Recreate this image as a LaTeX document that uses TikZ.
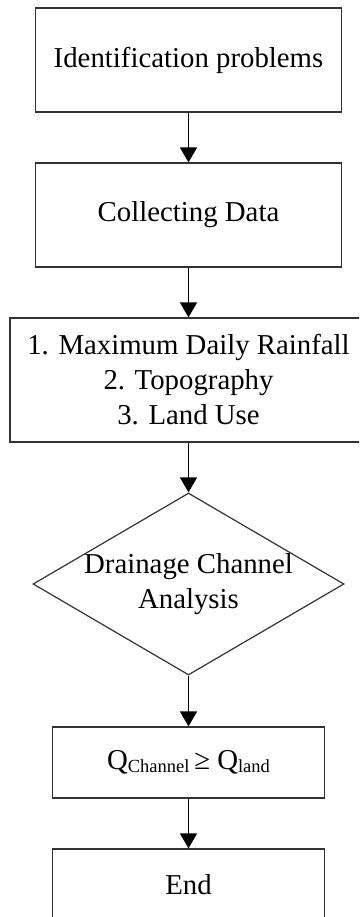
\documentclass[tikz,border=0pt]{standalone}
\usepackage{fontspec}
\setmainfont{Liberation Serif}
\usetikzlibrary{arrows.meta,shapes.geometric}
\tikzset{
  boxnode/.style={draw=black!80, line width=1.2bp, fill=white, inner sep=0pt,
    align=center, font=\fontsize{28.8bp}{35bp}\selectfont},
  decnode/.style={shape=diamond, draw=black!80, line width=1.2bp, fill=white, inner sep=0pt,
    minimum width=311bp, minimum height=182bp},
  textnode/.style={inner sep=0pt, align=center, font=\fontsize{28.8bp}{35bp}\selectfont},
  flowarrow/.style={draw=black, line width=1.5bp, -{Triangle[width=17bp,length=15bp]}}
}
\newcommand{\lowsub}[1]{\raisebox{-3bp}{\fontsize{18.5bp}{20bp}\selectfont #1}}
\begin{document}
\begin{tikzpicture}[x=1bp,y=-1bp]
\useasboundingbox (0,0) rectangle (359,917);
\clip (0,0) rectangle (359,917);
\node[boxnode, minimum width=306bp, minimum height=104bp] (b1) at (188.5,60) {Identification problems};
\node[boxnode, minimum width=306bp, minimum height=104bp] (b2) at (188.5,215) {Collecting Data};
\node[boxnode, minimum width=357bp, minimum height=124bp] (b3) at (188.5,380) {1. Maximum Daily Rainfall\\2. Topography\\3. Land Use};
\node[decnode] (d1) at (188.5,584) {};
\node[textnode] (d1t) at (d1.center) {Drainage Channel\\Analysis};
\node[boxnode, minimum width=272bp, minimum height=71bp] (q1) at (188.5,762.5) {Q\lowsub{Channel}\,≥ Q\lowsub{land}};
\node[boxnode, minimum width=272bp, minimum height=71bp] (e1) at (188.5,884.5) {End};
\draw[flowarrow] (b1.south) -- (b2.north);
\draw[flowarrow] (b2.south) -- (b3.north);
\draw[flowarrow] (b3.south) -- (d1.north);
\draw[flowarrow] (d1.south) -- (q1.north);
\draw[flowarrow] (q1.south) -- (e1.north);
\end{tikzpicture}
\end{document}
